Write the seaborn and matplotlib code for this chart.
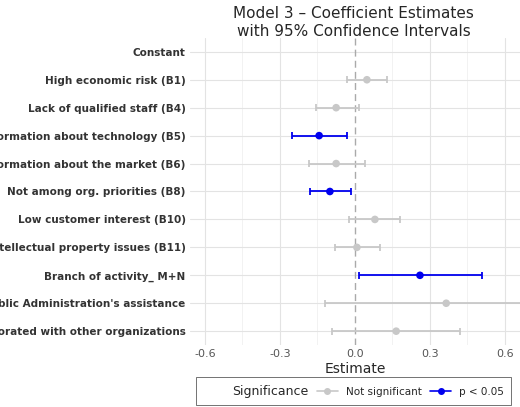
import numpy as np
import matplotlib.pyplot as plt
import seaborn as sns
from matplotlib.lines import Line2D

terms = ["Constant", "High economic risk (B1)", "Lack of qualified staff (B4)",
         "Lack of information about technology (B5)", "Lack of information about the market (B6)",
         "Not among org. priorities (B8)", "Low customer interest (B10)",
         "Intellectual property issues (B11)", "Branch of activity_ M+N",
         "Public Administration's assistance", "Collaborated with other organizations"]
estimate = [np.nan, 0.048, -0.075, -0.143, -0.075, -0.10, 0.08, 0.008, 0.26, 0.365, 0.165]
ci_low = [np.nan, -0.03, -0.155, -0.25, -0.185, -0.178, -0.025, -0.08, 0.015, -0.12, -0.09]
ci_high = [np.nan, 0.13, 0.015, -0.03, 0.04, -0.015, 0.18, 0.10, 0.51, 0.85, 0.42]
significant = [False, False, False, True, False, True, False, False, True, False, False]

sns.set_style("white")
fig = plt.figure(figsize=(5.2, 4.07), dpi=100)
ax = fig.add_axes([0.365, 0.152, 0.635, 0.755])

ypos = np.arange(len(terms))
for x in [-0.45, -0.15, 0.15, 0.45]:
    ax.axvline(x, color="#f0f0f0", lw=0.6, zorder=0)
for x in [-0.6, -0.3, 0.3, 0.6]:
    ax.axvline(x, color="#e3e3e3", lw=0.8, zorder=0)
for y in ypos:
    ax.axhline(y, color="#e3e3e3", lw=0.8, zorder=0)
ax.axvline(0, color="#aaaaaa", lw=1, ls=(0, (5, 3)), zorder=1)

grey, blue = "#c8c8c8", "#0000ee"
colors = [blue if s else grey for s in significant]
for y, lo, hi, c in zip(ypos, ci_low, ci_high, colors):
    if np.isnan(lo):
        continue
    ax.hlines(y, lo, hi, color=c, lw=1.3, zorder=2)
    ax.vlines([lo, hi], y - 0.12, y + 0.12, color=c, lw=1.3, zorder=2)
sns.scatterplot(x=estimate, y=ypos, hue=significant, palette={True: blue, False: grey},
                s=30, edgecolor="none", ax=ax, zorder=3, legend=False)

ax.set_xlim(-0.66, 0.66)
ax.set_ylim(len(terms) - 0.5, -0.5)
ax.set_yticks(ypos)
ax.set_yticklabels(terms, fontweight="bold", fontsize=7.5, color="#333333")
ax.set_xticks([-0.6, -0.3, 0, 0.3, 0.6])
ax.set_xticklabels(["-0.6", "-0.3", "0.0", "0.3", "0.6"], fontsize=8, color="#555555")
ax.tick_params(length=0, pad=3)
for s in ax.spines.values():
    s.set_visible(False)
ax.set_xlabel("Estimate", fontsize=10, labelpad=2)
fig.text(0.68, 0.985, "Model 3 – Coefficient Estimates\nwith 95% Confidence Intervals",
         ha="center", va="top", fontsize=11)

handles = [Line2D([], [], ls="none", label="Significance"),
           Line2D([0], [0], color=grey, marker="o", markersize=4, lw=1.2),
           Line2D([0], [0], color=blue, marker="o", markersize=4, lw=1.2)]
labels = ["Significance", "Not significant", "p < 0.05"]
leg = fig.legend(handles, labels, loc="lower center", bbox_to_anchor=(0.68, 0.0), ncol=3,
                 fontsize=7.5, frameon=True, handlelength=2, columnspacing=0.8)
leg.get_texts()[0].set_fontsize(9)
leg.get_frame().set_edgecolor("#333333")
leg.get_frame().set_linewidth(0.6)
leg.get_frame().set_boxstyle("square")
fig.savefig("out.png", dpi=100)
